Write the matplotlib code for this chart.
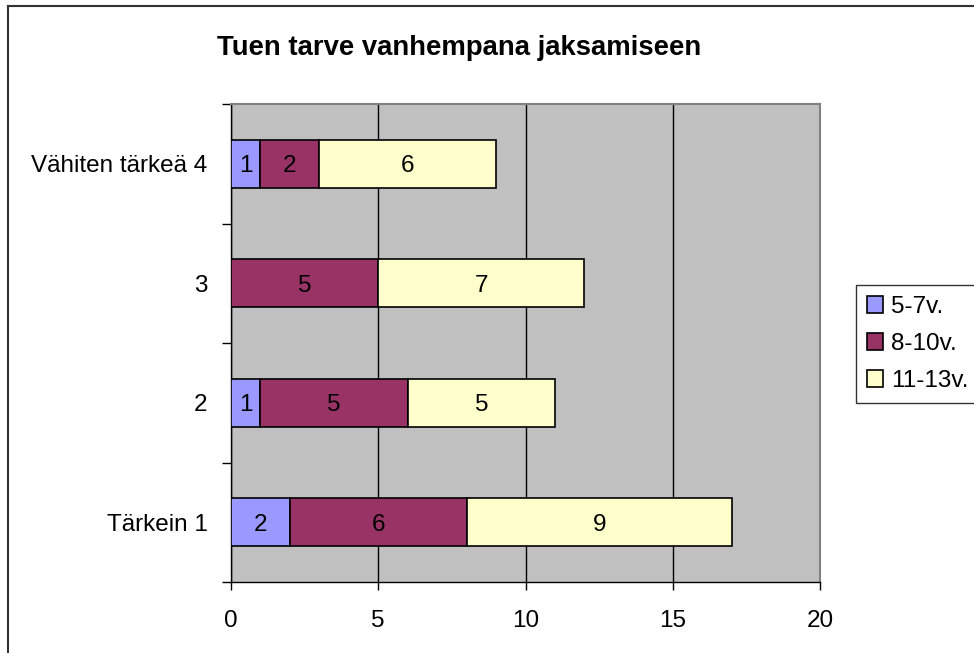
import numpy as np
import matplotlib
matplotlib.use("Agg")
import matplotlib.pyplot as plt
from matplotlib.lines import Line2D

# ── Data ─────────────────────────────────────────────────────────────────────
CATEGORIES = ["Tärkein 1", "2", "3", "Vähiten tärkeä 4"]
SERIES = ["5-7v.", "8-10v.", "11-13v."]
AGE_5_7 = [2, 1, 0, 1]
AGE_8_10 = [6, 5, 5, 2]
AGE_11_13 = [9, 5, 7, 6]
X_TICKS = [0, 5, 10, 15, 20]

COLORS = ["#9999FF", "#993366", "#FFFFCC"]
BG = "#C0C0C0"
FS = 17.5

plt.rcParams["font.family"] = ["Liberation Sans", "DejaVu Sans"]

fig = plt.figure(figsize=(9.74, 6.53), dpi=100)
ax = fig.add_axes([231 / 974, 1 - 582 / 653, 589 / 974, 478 / 653])
ax.set_facecolor(BG)

y = np.arange(len(CATEGORIES))
left = np.zeros(len(CATEGORIES))
for name, vals, col in zip(SERIES, [AGE_5_7, AGE_8_10, AGE_11_13], COLORS):
    vals = np.array(vals, dtype=float)
    ax.barh(y, vals, left=left, height=0.4, color=col, edgecolor="black",
            linewidth=1.2, label=name, zorder=3)
    for yi, l, v in zip(y, left, vals):
        if v > 0:
            ax.text(l + v / 2, yi, f"{v:.0f}", ha="center",
                    va="center_baseline", fontsize=FS, zorder=4)
    left += vals

ax.set_xlim(0, 20)
ax.set_ylim(-0.5, len(CATEGORIES) - 0.5)
ax.set_xticks(X_TICKS)
ax.tick_params(axis="x", direction="out", length=6, width=1, labelsize=FS,
               pad=14, color="black")
ax.grid(True, axis="x", color="black", linewidth=1, zorder=1)

# category boundaries as ticks, labels at centres
ax.set_yticks(np.arange(-0.5, len(CATEGORIES), 1.0))
ax.set_yticklabels([])
ax.set_yticks(y, minor=True)
ax.set_yticklabels(CATEGORIES, minor=True, va="center_baseline")
ax.tick_params(axis="y", which="major", direction="out", length=6.5, width=1,
               color="black")
ax.tick_params(axis="y", which="minor", length=0, labelsize=FS, pad=17)

for s in ["left", "bottom"]:
    ax.spines[s].set_color("black")
    ax.spines[s].set_linewidth(1)
for s in ["top", "right"]:
    ax.spines[s].set_color("#808080")
    ax.spines[s].set_linewidth(1.5)

fig.text(459 / 974, 1 - 48 / 653, "Tuen tarve vanhempana jaksamiseen",
         ha="center", va="center", fontsize=19.8, fontweight="bold")

leg = fig.legend(loc="upper left", bbox_to_anchor=(856 / 974, 1 - 285 / 653),
                 fontsize=FS, frameon=True, fancybox=False, edgecolor="black",
                 handlelength=0.65, handleheight=0.65, handletextpad=0.35,
                 borderpad=0.45, labelspacing=0.62, borderaxespad=0)
leg.get_frame().set_linewidth(1)
for p in leg.get_patches():
    p.set_linewidth(1.2)

# outer chart border (top and left visible)
fig.add_artist(Line2D([8 / 974, 8 / 974], [0, 1 - 6 / 653], color="#333333",
                      linewidth=1.5, transform=fig.transFigure))
fig.add_artist(Line2D([8 / 974, 1], [1 - 6 / 653, 1 - 6 / 653], color="#333333",
                      linewidth=1.5, transform=fig.transFigure))

fig.savefig("out.png", dpi=100)
